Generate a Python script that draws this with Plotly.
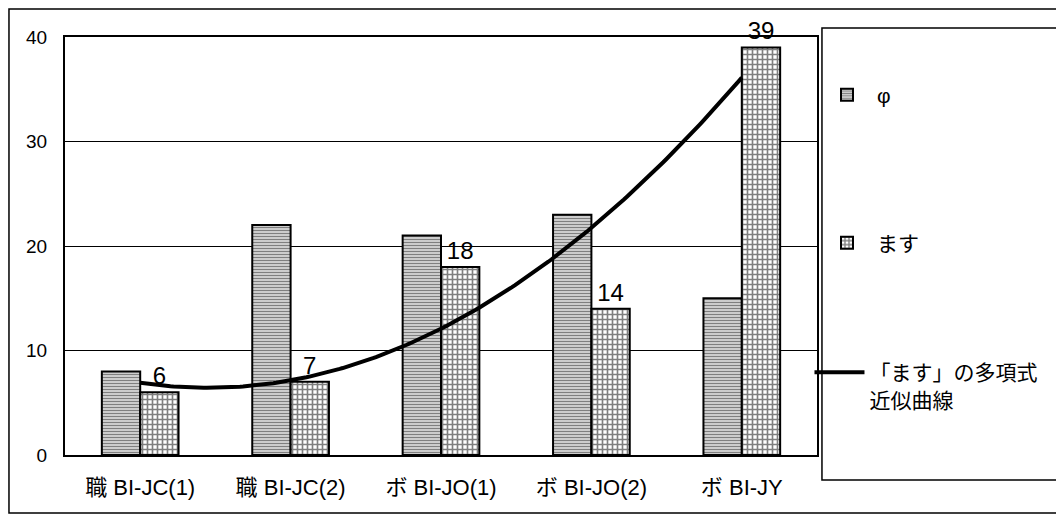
import numpy as np
import plotly.graph_objects as go

categories = ["職 BI-JC(1)", "職 BI-JC(2)", "ボ BI-JO(1)", "ボ BI-JO(2)", "ボ BI-JY"]
phi_values = [8, 22, 21, 23, 15]
masu_values = [6, 7, 18, 14, 39]
y_ticks = [0, 10, 20, 30, 40]

FONT = "Liberation Sans, Arial, Noto Sans CJK JP, sans-serif"
xpos = np.arange(len(categories))

# 2nd-order polynomial trend of ます (as in the original chart)
coef = np.polyfit(xpos, masu_values, 2)
xt = np.linspace(0, len(categories) - 1, 200)
yt = np.polyval(coef, xt)

fig = go.Figure()
fig.add_trace(go.Bar(
    x=xpos, y=phi_values, name="φ", legend="legend",
    marker=dict(color="white", line=dict(color="black", width=2),
                pattern=dict(shape="-", fgcolor="black", bgcolor="white",
                             size=3, solidity=0.6)),
))
fig.add_trace(go.Bar(
    x=xpos, y=masu_values, name="ます", legend="legend2",
    text=[str(v) for v in masu_values], textposition="outside",
    textfont=dict(size=24, color="black", family=FONT),
    cliponaxis=False,
    marker=dict(color="white", line=dict(color="black", width=2),
                pattern=dict(shape="+", fgcolor="black", bgcolor="white",
                             size=5, solidity=0.55)),
))
fig.add_trace(go.Scatter(
    x=xt, y=yt, mode="lines", name="「ます」の多項式<br>近似曲線", legend="legend3",
    line=dict(color="black", width=4), hoverinfo="skip",
))

def leg(ycenter_px, valign="middle", anchor="middle", x=0.99):
    # convert screen y (px) to paper coordinates of the plot area
    y = (455 - ycenter_px) / 418
    return dict(x=x, y=y, xanchor="left", yanchor=anchor, valign=valign,
                font=dict(size=21, family=FONT), bgcolor="rgba(0,0,0,0)",
                itemwidth=50)

fig.update_layout(
    width=1064, height=523,
    margin=dict(l=57, r=255, t=29, b=76),
    paper_bgcolor="white", plot_bgcolor="white",
    font=dict(family=FONT, color="black", size=19),
    barmode="group", bargap=0.49, bargroupgap=0,
    showlegend=True,
    legend=leg(95, x=1.0),
    legend2=leg(243, x=1.0),
    legend3=leg(352, valign="top", anchor="top"),
    xaxis=dict(tickvals=list(xpos), ticktext=categories, range=[-0.5, 4.5],
               showline=True, linecolor="black", linewidth=2, mirror=True,
               showgrid=False, ticks="", tickfont=dict(size=22), ticklabelstandoff=12),
    yaxis=dict(range=[0, 40], tickvals=y_ticks, showline=True, linecolor="black",
               linewidth=2, mirror=True, showgrid=True, gridcolor="black",
               gridwidth=1, ticks="", tickfont=dict(size=19), zeroline=False,
               ticklabelstandoff=12),
    shapes=[
        dict(type="rect", xref="paper", yref="paper", x0=1.0066, x1=1.319,
             y0=-0.06, y1=1.0215, line=dict(color="black", width=1.5)),
        dict(type="rect", xref="paper", yref="paper", x0=-0.0745, x1=1.3258,
             y0=-0.139, y1=1.067, line=dict(color="black", width=1.5)),
    ],
)

fig.write_html("out.html")
